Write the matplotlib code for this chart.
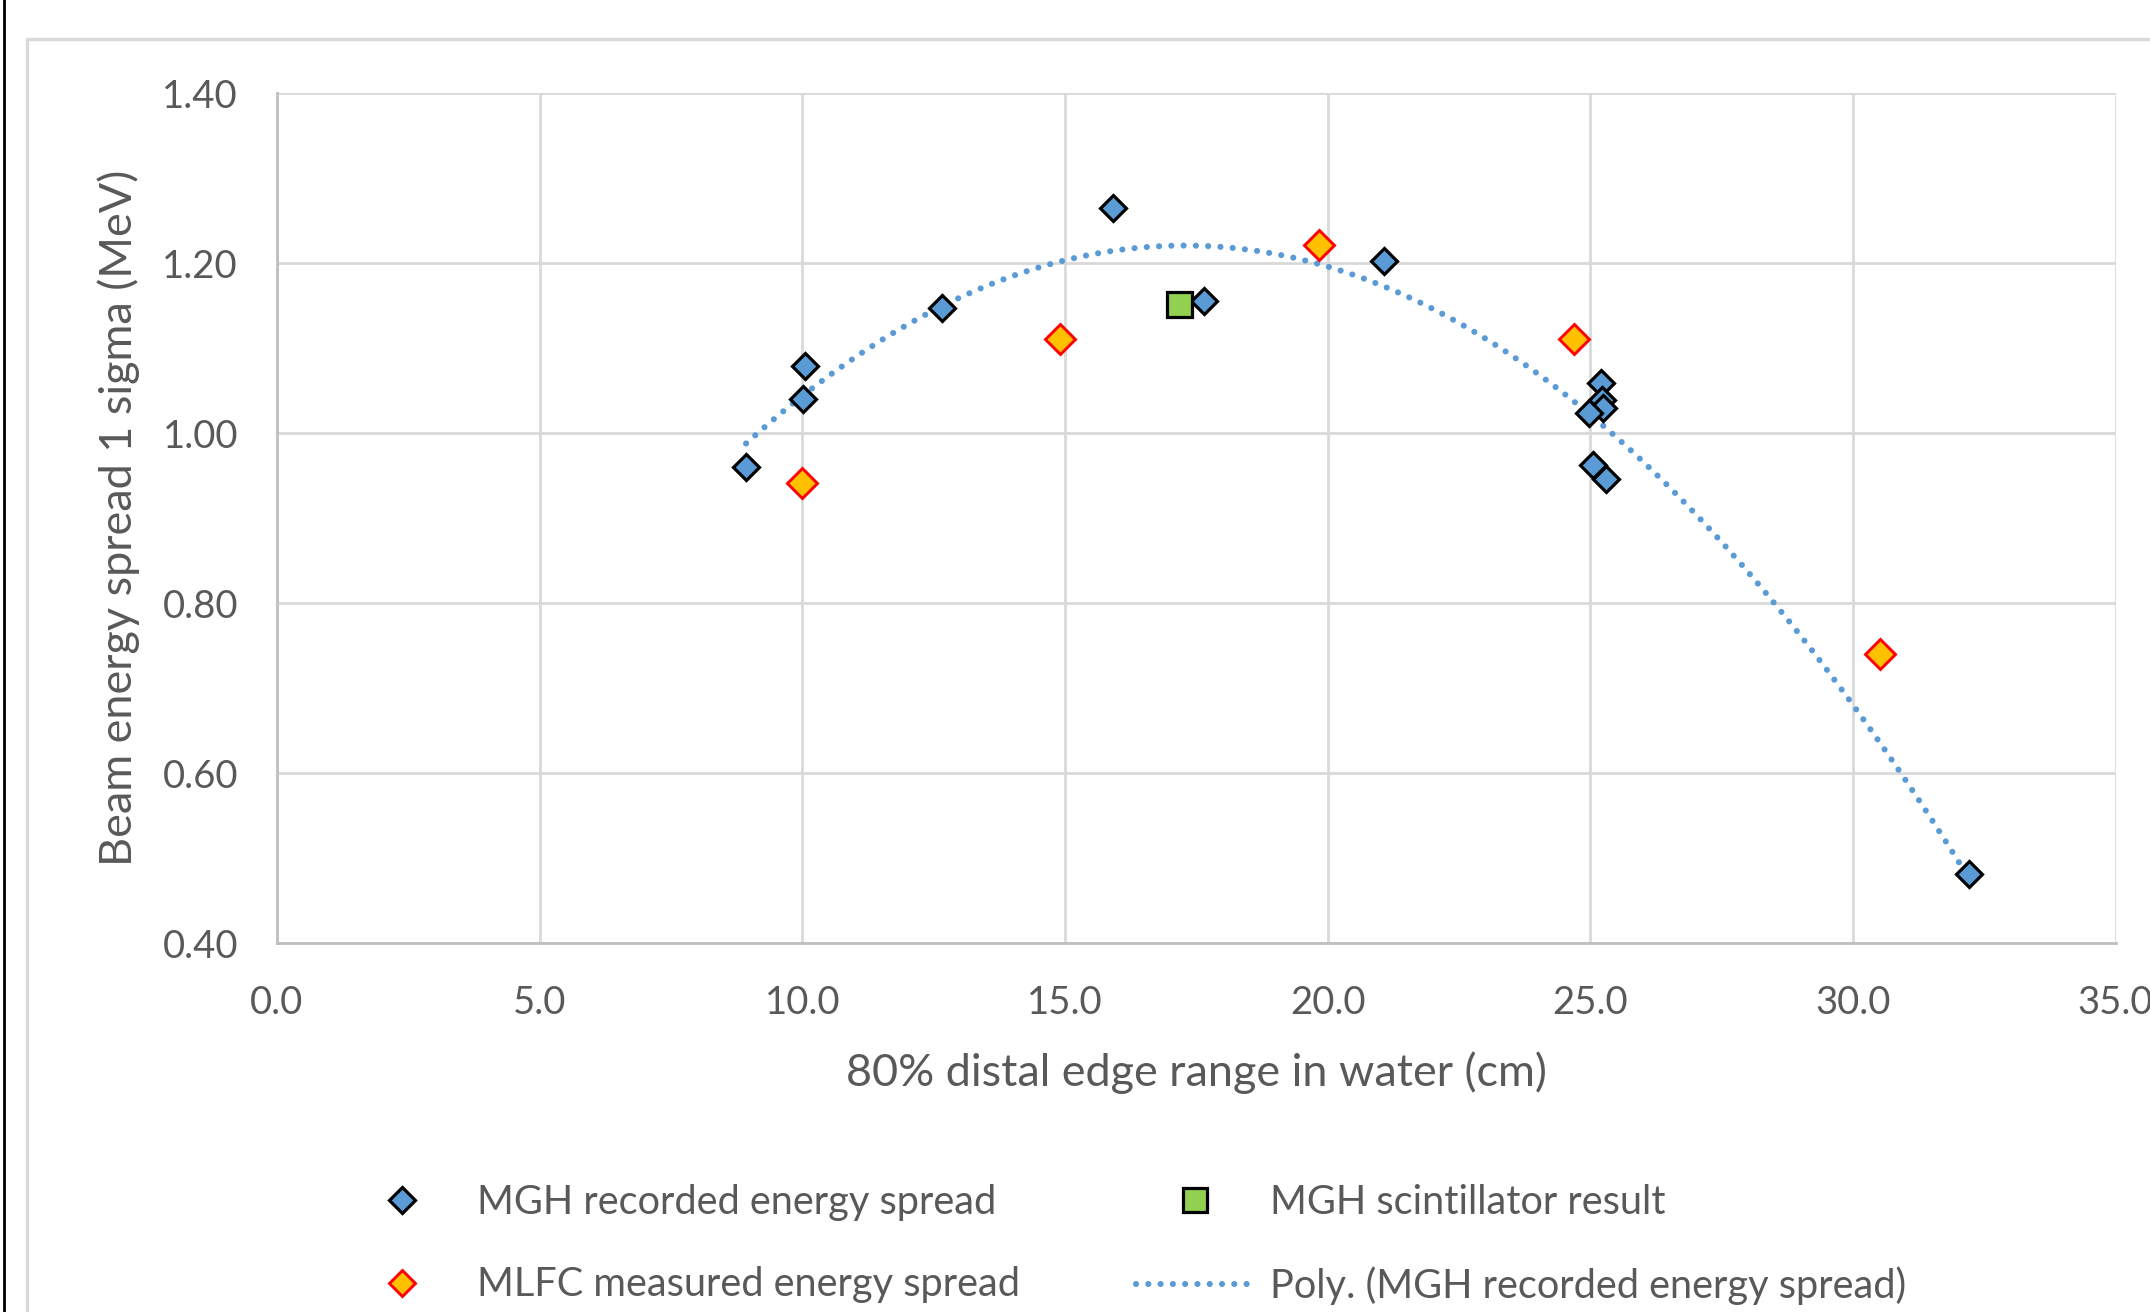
import numpy as np
import matplotlib
matplotlib.use("Agg")
import matplotlib.pyplot as plt
from matplotlib.lines import Line2D

plt.rcParams['font.family'] = ['Lato', 'DejaVu Sans']

# ---- data ----
mgh_x = [8.93, 10.05, 10.02, 12.66, 15.92, 17.65, 21.07, 25.20, 25.22, 25.25, 24.98, 25.06, 25.30, 32.21]
mgh_y = [0.960, 1.079, 1.040, 1.147, 1.265, 1.155, 1.202, 1.059, 1.039, 1.030, 1.024, 0.963, 0.946, 0.481]
mlfc_x = [10.00, 14.90, 19.84, 24.69, 30.51]
mlfc_y = [0.942, 1.111, 1.221, 1.111, 0.740]
scint_x = [17.18]
scint_y = [1.152]
x_ticks = [0.0, 5.0, 10.0, 15.0, 20.0, 25.0, 30.0, 35.0]
y_ticks = [0.40, 0.60, 0.80, 1.00, 1.20, 1.40]
labels = ["MGH recorded energy spread", "MLFC measured energy spread",
          "MGH scintillator result", "Poly. (MGH recorded energy spread)"]

W, H = 2150, 1312
DPI = 200
fig = plt.figure(figsize=(W / DPI, H / DPI), dpi=DPI)
fig.patch.set_facecolor('white')

# outer frame decorations
fig.add_artist(Line2D([3.6 / W, 3.6 / W], [0, 1], color='black', lw=1.0, transform=fig.transFigure))
fig.add_artist(Line2D([27 / W, 27 / W, 1.01], [-0.01, 1 - 39 / H, 1 - 39 / H],
                      color='#d9d9d9', lw=1.2, transform=fig.transFigure))

ax = fig.add_axes([0.1288, 0.281, 0.984 - 0.1288, 0.929 - 0.281])
ax.set_xlim(0, 35)
ax.set_ylim(0.40, 1.40)
ax.set_xticks(x_ticks)
ax.set_yticks(y_ticks)
ax.set_xticklabels([f"{v:.1f}" for v in x_ticks])
ax.set_yticklabels([f"{v:.2f}" for v in y_ticks])
ax.tick_params(axis='both', length=0, labelsize=13.8, colors='#595959')
ax.tick_params(axis='x', pad=15)
ax.tick_params(axis='y', pad=14)
ax.grid(True, color='#d9d9d9', lw=1.0, zorder=0)
ax.set_axisbelow(True)
for s in ['top', 'right']:
    ax.spines[s].set_visible(False)
for s in ['left', 'bottom']:
    ax.spines[s].set_color('#bfbfbf')
    ax.spines[s].set_linewidth(1.0)

ax.set_xlabel("80% distal edge range in water (cm)", fontsize=16.2, color='#595959', labelpad=11)
ax.set_ylabel("Beam energy spread 1 sigma (MeV)", fontsize=16.2, color='#595959', labelpad=8)

# trendline: 2nd order polynomial fit of MGH data
coef = np.polyfit(mgh_x, mgh_y, 2)
xt = np.linspace(min(mgh_x), max(mgh_x), 400)
yt = np.polyval(coef, xt)
dot_style = (0, (0.01, 2.0))
ax.plot(xt, yt, color='#5b9bd5', lw=2.2, linestyle=dot_style,
        dash_capstyle='round', zorder=2, label=labels[3])

ax.plot(mgh_x, mgh_y, linestyle='none', marker='D', ms=6.8, mfc='#5b9bd5', mec='black',
        mew=1.15, zorder=3, label=labels[0])
ax.plot(mlfc_x, mlfc_y, linestyle='none', marker='D', ms=7.8, mfc='#ffc000', mec='#ff0000',
        mew=1.05, zorder=3, label=labels[1])
ax.plot(scint_x, scint_y, linestyle='none', marker='s', ms=9.0, mfc='#92d050', mec='black',
        mew=1.15, zorder=3, label=labels[2])

handles = [
    Line2D([], [], linestyle='none', marker='D', ms=6.8, mfc='#5b9bd5', mec='black', mew=1.15),
    Line2D([], [], linestyle='none', marker='D', ms=6.8, mfc='#ffc000', mec='#ff0000', mew=1.05),
    Line2D([], [], linestyle='none', marker='s', ms=8.6, mfc='#92d050', mec='black', mew=1.15),
    Line2D([], [], color='#5b9bd5', lw=2.2, linestyle=dot_style, dash_capstyle='round'),
]
leg = fig.legend(handles, labels, ncol=2, loc='upper left', bbox_to_anchor=(0.143, 0.125),
                 frameon=False, fontsize=14.3, labelcolor='#595959', handlelength=2.95,
                 handletextpad=0.42, columnspacing=2.92, labelspacing=1.15)

fig.savefig("out.png", dpi=DPI)
